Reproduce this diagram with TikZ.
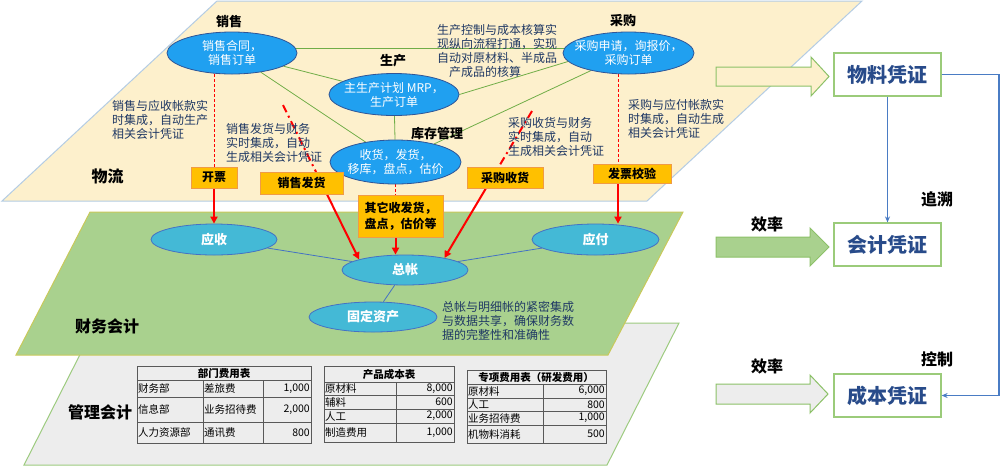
\documentclass[tikz,border=0pt]{standalone}
\usepackage{fontspec}
\setmainfont{Noto Sans CJK SC}
\usetikzlibrary{arrows.meta,shapes.geometric,calc}
\pgfdeclarelayer{planes}
\pgfdeclarelayer{lines}
\pgfsetlayers{planes,lines,main}
\newcommand{\myfs}[2]{\fontsize{#1}{#2}\selectfont}
\definecolor{beige}{HTML}{FDF0CC}
\definecolor{beigeb}{HTML}{B4CCE4}
\definecolor{greenp}{HTML}{A9D18E}
\definecolor{greenb}{HTML}{C9C95A}
\definecolor{grayp}{HTML}{EDEDED}
\definecolor{grayb}{HTML}{9DCB7F}
\definecolor{topblue}{HTML}{20A0F0}
\definecolor{topbord}{HTML}{2F5597}
\definecolor{finblue}{HTML}{44B9D6}
\definecolor{finbord}{HTML}{4472C4}
\definecolor{ored}{HTML}{FFC000}
\definecolor{oborder}{HTML}{F09B45}
\definecolor{navy}{HTML}{1F3864}
\definecolor{lgreen}{HTML}{70AD47}
\definecolor{lblue}{HTML}{4472C4}
\definecolor{vgreen}{HTML}{9BCB7A}
\definecolor{vnavy}{HTML}{284B8A}
\definecolor{vblue}{HTML}{4A7CC4}
\definecolor{agreen}{HTML}{8CC168}
\definecolor{tgray}{HTML}{595959}
\definecolor{rred}{HTML}{FF0000}
\begin{document}
\begin{tikzpicture}[x=1pt,y=-1pt,
  topell/.style={ellipse, fill=topblue, draw=topbord, line width=0.8, minimum width=130, minimum height=42, inner sep=0},
  toptxt/.style={text=white, align=center, font=\myfs{12}{14}, inner sep=0},
  finell/.style={ellipse, fill=finblue, draw=finbord, line width=0.8, minimum width=127, minimum height=31, inner sep=0, text=white, font=\bfseries\myfs{13}{15}},
  obox/.style={rectangle, fill=ored, draw=oborder, line width=1, inner sep=0, align=center, font=\bfseries\myfs{12}{16}},
  sect/.style={font=\bfseries\myfs{13}{15}, inner sep=0},
  big/.style={font=\bfseries\myfs{16}{18}, inner sep=0},
  note/.style={align=left, text=navy, font=\myfs{12}{14}, inner sep=0, anchor=north west},
  gline/.style={draw=lgreen, line width=0.8},
  bline/.style={draw=lblue, line width=0.8},
  rdash/.style={draw=rred, line width=1, dash pattern=on 3pt off 2pt},
  rdashdot/.style={draw=rred, line width=2, dash pattern=on 8pt off 4pt on 2pt off 4pt},
  rarrow/.style={draw=rred, line width=2, -{Triangle[length=7pt,width=7pt]}},
  vbox/.style={rectangle, fill=white, draw=vgreen, line width=1.2, minimum width=107, minimum height=43, inner sep=0, text=vnavy, font=\bfseries\myfs{20}{22}},
  blarrow/.style={draw=vblue, line width=1.8, -{Stealth[length=6pt,width=5pt]}},
  tcell/.style={font=\myfs{10.5}{12}, inner sep=1},
  thead/.style={font=\bfseries\myfs{10.5}{12}, inner sep=0},
  tgrid/.style={draw=tgray, line width=0.8},
  blockarr/.style={draw=agreen, line width=1}
]
\useasboundingbox (0,0) rectangle (1000,467);

% ---------- planes ----------
\begin{pgfonlayer}{planes}
\fill[white] (0,0) rectangle (1000,467);
\draw[fill=grayp, draw=grayb, line width=1] (96,323) -- (679,323) -- (607,465) -- (24,465) -- cycle;
\draw[fill=greenp, draw=greenb, line width=1] (90,212) -- (683,212) -- (608,355) -- (16,355) -- cycle;
\draw[fill=beige, draw=beigeb, line width=1] (217,1) -- (862,1) -- (647,201) -- (2,201) -- cycle;
\end{pgfonlayer}

% ---------- top plane nodes ----------
\node[topell] (s1) at (232,53) {};
\node[toptxt] (s1t) at (s1) {销售合同，\\销售订单};
\node[topell] (s2) at (394,94.5) {};
\node[toptxt] (s2t) at (s2) {主生产计划 MRP，\\生产订单};
\node[topell, minimum width=131, minimum height=44] (s3) at (395.5,162) {};
\node[toptxt] (s3t) at (s3) {收货，发货，\\移库，盘点，估价};
\node[topell, minimum width=131] (s4) at (628.5,53) {};
\node[toptxt] (s4t) at (s4) {采购申请，询报价，\\采购订单};

\node[sect] (l1) at (229,22) {销售};
\node[sect] (l2) at (393,61) {生产};
\node[sect] (l3) at (623,21) {采购};
\node[sect] (l4) at (437,134) {库存管理};
\node[big] (wl) at (107.5,176.5) {物流};
\node[big] (cw) at (107,326) {财务会计};
\node[big] (gl) at (100,412) {管理会计};

\node[note] (n1) at (112,100) {销售与应收帐款实\\时集成，自动生产\\相关会计凭证};
\node[note] (n2) at (226,123) {销售发货与财务\\实时集成，自动\\生成相关会计凭证};
\node[note] (n3) at (508,117) {采购收货与财务\\实时集成，自动\\生成相关会计凭证};
\node[note] (n4) at (628,99) {采购与应付帐款实\\时集成，自动生成\\相关会计凭证};
\node[note] (n5) at (437,24) {生产控制与成本核算实\\现纵向流程打通，实现\\自动对原材料、半成品\\\hspace*{12pt}产成品的核算};
\node[note] (n6) at (442,301) {总帐与明细帐的紧密集成\\与数据共享，确保财务数\\据的完整性和准确性};

% orange boxes
\node[obox, minimum width=46, minimum height=21] (kp) at (214,177.5) {开票};
\node[obox, minimum width=83, minimum height=22] (xs) at (301.5,183) {销售发货};
\node[obox, minimum width=85, minimum height=42] (ot) at (400.5,216) {其它收发货，\\盘点，估价等};
\node[obox, minimum width=76, minimum height=21] (cs) at (505,177.5) {采购收货};
\node[obox, minimum width=78, minimum height=19] (fp) at (632,173.5) {发票校验};

% ---------- finance plane nodes ----------
\node[finell, minimum width=126] (ys) at (214,239.5) {应收};
\node[finell, minimum width=126, minimum height=30] (z) at (405,270) {总帐};
\node[finell] (yf) at (595.5,239.5) {应付};
\node[finell, minimum width=128, minimum height=30] (gd) at (373,317) {固定资产};

% ---------- tables ----------
% table 1
\draw[tgrid] (137,366) rectangle (311,443);
\draw[tgrid] (137,380) -- (311,380) (137,397) -- (311,397) (137,422) -- (311,422)
  (203,380) -- (203,443) (263,380) -- (263,443);
\node[thead] (t1h) at (224,373) {部门费用表};
\node[tcell, anchor=west] (t1a) at (137,388.5) {财务部};
\node[tcell, anchor=west] (t1b) at (203,388.5) {差旅费};
\node[tcell, anchor=east] (t1c) at (311,388.5) {1,000};
\node[tcell, anchor=west] (t1d) at (137,409.5) {信息部};
\node[tcell, anchor=west] (t1e) at (203,409.5) {业务招待费};
\node[tcell, anchor=east] (t1f) at (311,409.5) {2,000};
\node[tcell, anchor=west] (t1g) at (137,432.5) {人力资源部};
\node[tcell, anchor=west] (t1h2) at (203,432.5) {通讯费};
\node[tcell, anchor=east] (t1i) at (311,432.5) {800};
% table 2
\draw[tgrid] (324,366) rectangle (454,442);
\draw[tgrid] (324,382) -- (454,382) (324,395) -- (454,395) (324,409) -- (454,409) (324,423) -- (454,423)
  (396,382) -- (396,442);
\node[thead] (t2h) at (389,374) {产品成本表};
\node[tcell, anchor=west] (t2a) at (324,388.5) {原材料};
\node[tcell, anchor=east] (t2b) at (454,388.5) {8,000};
\node[tcell, anchor=west] (t2c) at (324,402) {辅料};
\node[tcell, anchor=east] (t2d) at (454,402) {600};
\node[tcell, anchor=west] (t2e) at (324,416) {人工};
\node[tcell, anchor=east] (t2f) at (454,416) {2,000};
\node[tcell, anchor=west] (t2g) at (324,432.5) {制造费用};
\node[tcell, anchor=east] (t2i) at (454,432.5) {1,000};
% table 3
\draw[tgrid] (467,370) rectangle (606,443);
\draw[tgrid] (467,384) -- (606,384) (467,398) -- (606,398) (467,411) -- (606,411) (467,425) -- (606,425)
  (543,384) -- (543,443);
\node[thead] (t3h) at (536,377) {专项费用表（研发费用）};
\node[tcell, anchor=west] (t3a) at (467,391) {原材料};
\node[tcell, anchor=east] (t3b) at (606,391) {6,000};
\node[tcell, anchor=west] (t3c) at (467,404.5) {人工};
\node[tcell, anchor=east] (t3d) at (606,404.5) {800};
\node[tcell, anchor=west] (t3e) at (467,418) {业务招待费};
\node[tcell, anchor=east] (t3f) at (606,418) {1,000};
\node[tcell, anchor=west] (t3g) at (467,434) {机物料消耗};
\node[tcell, anchor=east] (t3i) at (606,434) {500};

% ---------- right side ----------
\draw[blockarr, fill=beige] (716,67) -- (811,67) -- (811,57) -- (829,76.5) -- (811,96) -- (811,86) -- (716,86) -- cycle;
\draw[blockarr, fill=greenp] (716,237) -- (810,237) -- (810,228) -- (829,247) -- (810,266) -- (810,257) -- (716,257) -- cycle;
\draw[blockarr, fill=grayp] (716,384) -- (810,384) -- (810,375) -- (828,394) -- (810,413) -- (810,404) -- (716,404) -- cycle;
\node[vbox] (m1) at (887.5,74.5) {物料凭证};
\node[vbox] (m2) at (887.5,244.5) {会计凭证};
\node[vbox] (m3) at (887.5,395.5) {成本凭证};
\node[big] (e1) at (767,224) {效率};
\node[big] (e2) at (767,366) {效率};
\node[big] (zs) at (937,199) {追溯};
\node[big] (kz) at (937,359) {控制};
\draw[blarrow] (m1) -- (m2);
\draw[blarrow] (m1.east) -- ++(57,0) |- (m3.east);

% ---------- connectors ----------
\begin{pgfonlayer}{lines}
\draw[gline] (s1.4) -- (s4.176);
\draw[gline] (s1) -- (s2);
\draw[gline] (s1) -- (s3);
\draw[gline] (s2.east) -- (s4.188);
\draw[gline] (s2) -- (s3);
\draw[gline] (s3) -- (s4);
\draw[bline] (ys) -- (z);
\draw[bline] (yf) -- (z);
\draw[bline] (z) -- (gd);
% red
\draw[rdash] (kp.north |- s1.south) -- (kp.north);
\draw[rarrow] (kp.south) -- (ys.north);
\coordinate (c1) at (283,105);
\draw[rdashdot] (c1) -- ($(c1)!0.5!(z.167)$);
\draw[rarrow] ($(c1)!0.5!(z.167)$) -- (z.167);
\coordinate (c2) at (532,111);
\draw[rdashdot] (c2) -- ($(c2)!0.5!(z.17)$);
\draw[rarrow] ($(c2)!0.5!(z.17)$) -- (z.17);
\draw[rdash] (s3.south) -- (ot.north -| s3.south);
\draw[rarrow] (ot.south -| s3.south) -- (z.north -| s3.south);
\coordinate (fpx) at ([xshift=-14pt]fp.south);
\coordinate (fpn) at ([xshift=-14pt]fp.north);
\draw[rdash] (fpn |- s4.south) -- (fpn);
\draw[rarrow] (fpx) -- (fpx |- yf.north);
\end{pgfonlayer}
\end{tikzpicture}
\end{document}
